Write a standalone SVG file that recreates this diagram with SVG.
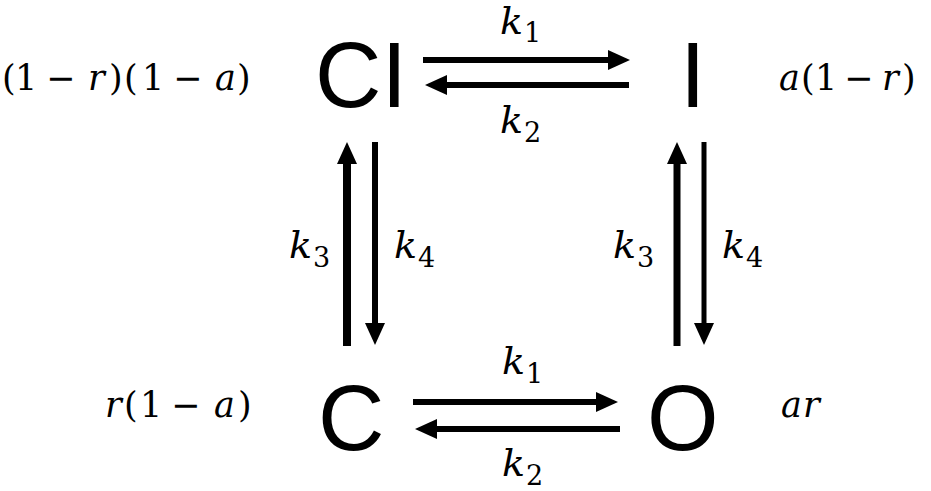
<svg xmlns="http://www.w3.org/2000/svg" width="931" height="491" viewBox="0 0 931 491">
<style>
.state{font-family:"Liberation Sans",Arial,sans-serif;font-size:92px;fill:#000}
.m{font-family:"DejaVu Serif","Liberation Serif",serif;font-size:35px;fill:#000}
.i{font-style:italic}
.k{font-family:"DejaVu Serif","Liberation Serif",serif;font-size:38px;font-style:italic;fill:#000}
.sub{font-style:normal;font-size:27px}
.arr{stroke:#000;stroke-width:6;fill:none;marker-end:url(#ah)}
</style>
<defs>
<marker id="ah" markerUnits="userSpaceOnUse" viewBox="0 -10 22 20" refX="2" refY="0" markerWidth="22" markerHeight="20" orient="auto">
<path d="M0,-10 L22,0 L0,10 z" fill="#000"/>
</marker>
</defs>
<rect width="931" height="491" fill="#fff"/>
<g id="node-CI"><text class="state" x="315" y="107">CI</text></g>
<g id="node-I"><text class="state" x="680" y="107">I</text></g>
<g id="node-C"><text class="state" x="318" y="450">C</text></g>
<g id="node-O"><text class="state" x="647" y="450">O</text></g>
<g id="labels">
<text class="m" y="90"><tspan x="2">(</tspan><tspan x="15">1</tspan><tspan x="46">−</tspan><tspan class="i" x="88">r</tspan><tspan x="109">)</tspan><tspan x="124">(</tspan><tspan x="142">1</tspan><tspan x="173">−</tspan><tspan class="i" x="215">a</tspan><tspan x="237">)</tspan></text>
<text class="m" y="90"><tspan class="i" x="779">a</tspan><tspan x="801">(</tspan><tspan x="815">1</tspan><tspan x="844">−</tspan><tspan class="i" x="882">r</tspan><tspan x="902">)</tspan></text>
<text class="m" y="417"><tspan class="i" x="105">r</tspan><tspan x="124">(</tspan><tspan x="140">1</tspan><tspan x="171">−</tspan><tspan class="i" x="214">a</tspan><tspan x="238">)</tspan></text>
<text class="m" y="417"><tspan class="i" x="781">a</tspan><tspan class="i" x="803">r</tspan></text>
<text class="k" x="500" y="34">k<tspan class="sub" x="524" y="42">1</tspan></text>
<text class="k" x="500" y="133">k<tspan class="sub" x="524" y="142">2</tspan></text>
<text class="k" x="502" y="374">k<tspan class="sub" x="526" y="383">1</tspan></text>
<text class="k" x="502" y="476">k<tspan class="sub" x="526" y="485">2</tspan></text>
<text class="k" x="289" y="258">k<tspan class="sub" x="313" y="267">3</tspan></text>
<text class="k" x="394" y="258">k<tspan class="sub" x="418" y="267">4</tspan></text>
<text class="k" x="613" y="258">k<tspan class="sub" x="637" y="267">3</tspan></text>
<text class="k" x="722" y="258">k<tspan class="sub" x="746" y="267">4</tspan></text>
</g>
<g id="connectors">
<path class="arr" d="M423,60 H610"/>
<path class="arr" d="M629,85 H445"/>
<path class="arr" d="M413,402 H598"/>
<path class="arr" d="M620,429 H435"/>
<path class="arr" style="stroke-width:8" d="M347,346 V162"/>
<path class="arr" d="M375,142 V325"/>
<path class="arr" style="stroke-width:7" d="M677,346 V162"/>
<path class="arr" style="stroke-width:5" d="M704,142 V325"/>
</g>
</svg>
